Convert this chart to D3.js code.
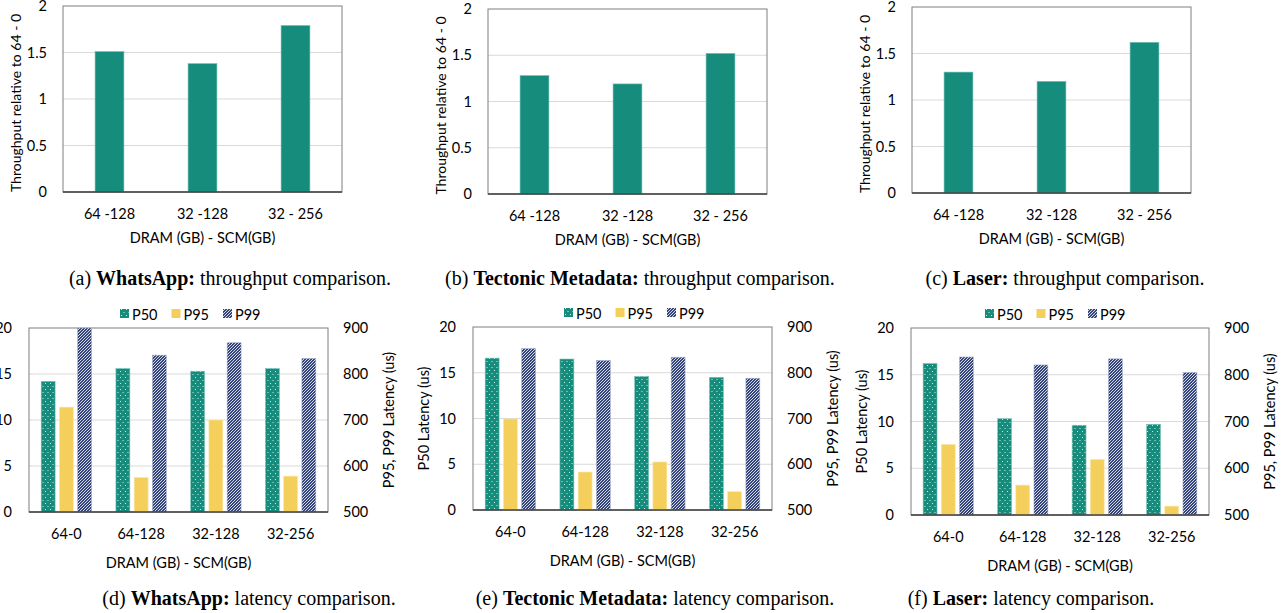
<!DOCTYPE html>
<html>
<head>
<meta charset="utf-8">
<script src="https://cdn.jsdelivr.net/npm/d3@7"></script>
<style>
  body { margin: 0; background: #fff; }
  text { font-family: Lato, "Open Sans", sans-serif; fill: #000; }
</style>
</head>
<body>
<div id="chart"></div>
<script>
const WIDTH = 1281, HEIGHT = 613;

// Throughput charts (top row)
const throughputCats = ["64 -128", "32 -128", "32 - 256"];
const throughputTicks = [0, 0.5, 1, 1.5, 2];
const whatsappThroughput = [1.51, 1.38, 1.79];
const tectonicThroughput = [1.28, 1.19, 1.52];
const laserThroughput = [1.30, 1.20, 1.62];

// Latency charts (bottom row), P50 on left axis, P95/P99 on right axis
const latencyCats = ["64-0", "64-128", "32-128", "32-256"];
const latencySeries = ["P50", "P95", "P99"];
const leftTicks = [0, 5, 10, 15, 20];
const rightTicks = [500, 600, 700, 800, 900];
const whatsappP50 = [14.2, 15.6, 15.3, 15.6];
const whatsappP95 = [728, 575, 700, 578];
const whatsappP99 = [900, 841, 868, 834];
const tectonicP50 = [16.6, 16.5, 14.6, 14.5];
const tectonicP95 = [699, 583, 605, 540];
const tectonicP99 = [853, 827, 834, 788];
const laserP50 = [16.2, 10.3, 9.6, 9.7];
const laserP95 = [651, 564, 619, 519];
const laserP99 = [838, 821, 834, 805];

const TEAL = "#168c7d", YELLOW = "#f5cf5c", NAVY = "#34457a";
const GRID = "#d9d9d9", FRAME = "#7f7f7f", AXIS = "#404040";
const FONT = "14.5px";

const svg = d3.select("#chart").append("svg")
    .attr("width", WIDTH)
    .attr("height", HEIGHT);

const defs = svg.append("defs");
const dots = defs.append("pattern")
    .attr("id", "dots").attr("patternUnits", "userSpaceOnUse")
    .attr("width", 5).attr("height", 6);
dots.append("rect").attr("width", 5).attr("height", 6).attr("fill", TEAL);
dots.append("rect").attr("x", 1).attr("y", 1).attr("width", 1).attr("height", 1).attr("fill", "#cfe9e4");
dots.append("rect").attr("x", 3.5).attr("y", 4).attr("width", 1).attr("height", 1).attr("fill", "#cfe9e4");

const hatch = defs.append("pattern")
    .attr("id", "hatch").attr("patternUnits", "userSpaceOnUse")
    .attr("width", 3).attr("height", 3);
hatch.append("rect").attr("width", 3).attr("height", 3).attr("fill", NAVY);
hatch.append("path")
    .attr("d", "M0,3 L3,0 M-1,1 L1,-1 M2,4 L4,2")
    .attr("stroke", "#e6e9f2").attr("stroke-width", 0.9);

const seriesFill = { P50: "url(#dots)", P95: YELLOW, P99: "url(#hatch)" };

function frame(g, w, h) {
    g.append("rect")
        .attr("width", w).attr("height", h)
        .attr("fill", "none").attr("stroke", FRAME).attr("stroke-width", 1);
}

function grid(g, scale, ticks, w) {
    g.selectAll(".grid")
        .data(ticks.slice(1, -1))
        .join("line")
        .attr("x1", 0).attr("x2", w)
        .attr("y1", d => scale(d)).attr("y2", d => scale(d))
        .attr("stroke", GRID).attr("stroke-width", 1);
}

function styleTicks(sel) {
    sel.select(".domain").remove();
    sel.selectAll("text").style("font-size", FONT).style("font-family", "Lato, sans-serif").attr("fill", "#000");
}

function drawThroughput(box, values, caption, captionX) {
    const w = box.right - box.left, h = box.bottom - box.top;
    const g = svg.append("g").attr("transform", `translate(${box.left}, ${box.top})`);

    const x = d3.scaleBand().domain(throughputCats).range([0, w])
        .paddingInner(0.69).paddingOuter(0.345);
    const y = d3.scaleLinear().domain([0, 2]).range([h, 0]);

    grid(g, y, throughputTicks, w);
    frame(g, w, h);

    g.selectAll(".bar")
        .data(values)
        .join("rect")
        .attr("x", (d, i) => x(throughputCats[i]))
        .attr("y", d => y(d))
        .attr("width", x.bandwidth())
        .attr("height", d => h - y(d))
        .attr("fill", TEAL)
        .attr("stroke", "#6fbcb0").attr("stroke-width", 0.6);

    g.append("line").attr("x1", 0).attr("x2", w).attr("y1", h).attr("y2", h)
        .attr("stroke", AXIS).attr("stroke-width", 1.5);

    g.append("g").call(d3.axisLeft(y).tickValues(throughputTicks).tickSize(0).tickPadding(16).tickFormat(d3.format("")))
        .call(styleTicks);
    g.append("g").attr("transform", `translate(0, ${h})`)
        .call(d3.axisBottom(x).tickSize(0).tickPadding(17))
        .call(styleTicks);

    g.append("text")
        .attr("transform", "rotate(-90)")
        .attr("x", -h / 2 - 4).attr("y", -42)
        .attr("text-anchor", "middle")
        .style("font-size", "14px")
        .text("Throughput relative to 64 - 0");

    g.append("text")
        .attr("x", w / 2).attr("y", h + 51)
        .attr("text-anchor", "middle")
        .style("font-size", FONT)
        .text("DRAM (GB) - SCM(GB)");

    drawCaption(caption, captionX, 285);
}

function drawLatency(box, p50, p95, p99, legendX, caption, captionX) {
    const w = box.right - box.left, h = box.bottom - box.top;
    const g = svg.append("g").attr("transform", `translate(${box.left}, ${box.top})`);

    const x0 = d3.scaleBand().domain(latencyCats).range([0, w]);
    const x1 = d3.scaleBand().domain(latencySeries).range([0, x0.bandwidth()])
        .paddingInner(0.235).paddingOuter(0.667);
    const yL = d3.scaleLinear().domain([0, 20]).range([h, 0]);
    const yR = d3.scaleLinear().domain([500, 900]).range([h, 0]);

    grid(g, yL, leftTicks, w);
    frame(g, w, h);

    const rows = latencyCats.map((c, i) => [
        { cat: c, s: "P50", v: p50[i], y: yL(p50[i]) },
        { cat: c, s: "P95", v: p95[i], y: yR(p95[i]) },
        { cat: c, s: "P99", v: p99[i], y: yR(p99[i]) }
    ]).flat();

    g.selectAll(".bar")
        .data(rows)
        .join("rect")
        .attr("x", d => x0(d.cat) + x1(d.s))
        .attr("y", d => d.y)
        .attr("width", x1.bandwidth())
        .attr("height", d => h - d.y)
        .attr("fill", d => seriesFill[d.s])
        .attr("stroke", d => d.s === "P95" ? "#fbe7ad" : (d.s === "P50" ? "#7cc2b7" : "#aab3cf"))
        .attr("stroke-width", 0.6);

    g.append("line").attr("x1", 0).attr("x2", w).attr("y1", h).attr("y2", h)
        .attr("stroke", AXIS).attr("stroke-width", 1.5);

    g.append("g").call(d3.axisLeft(yL).tickValues(leftTicks).tickSize(0).tickPadding(17))
        .call(styleTicks);
    g.append("g").attr("transform", `translate(${w}, 0)`)
        .call(d3.axisRight(yR).tickValues(rightTicks).tickSize(0).tickPadding(15))
        .call(styleTicks);
    g.append("g").attr("transform", `translate(0, ${h})`)
        .call(d3.axisBottom(x0).tickSize(0).tickPadding(17))
        .call(styleTicks);

    g.append("text")
        .attr("transform", "rotate(-90)")
        .attr("x", -h / 2).attr("y", -44)
        .attr("text-anchor", "middle")
        .style("font-size", FONT)
        .text("P50 Latency (us)");

    g.append("text")
        .attr("transform", "rotate(-90)")
        .attr("x", -h / 2).attr("y", w + 66)
        .attr("text-anchor", "middle")
        .style("font-size", FONT)
        .text("P95, P99 Latency (us)");

    g.append("text")
        .attr("x", w / 2).attr("y", h + 56)
        .attr("text-anchor", "middle")
        .style("font-size", FONT)
        .text("DRAM (GB) - SCM(GB)");

    // Legend
    const lg = svg.append("g").attr("transform", `translate(${legendX}, ${box.top - 14})`);
    const items = lg.selectAll(".item")
        .data(latencySeries)
        .join("g")
        .attr("transform", (d, i) => `translate(${i * 51.5}, 0)`);
    items.append("rect")
        .attr("x", 0).attr("y", -5).attr("width", 9).attr("height", 9)
        .attr("fill", d => seriesFill[d]);
    items.append("text")
        .attr("x", 12).attr("y", 0)
        .attr("dominant-baseline", "central")
        .style("font-size", FONT)
        .text(d => d);

    drawCaption(caption, captionX, 605);
}

function drawCaption(parts, cx, y) {
    const t = svg.append("text")
        .attr("x", cx).attr("y", y)
        .attr("text-anchor", "middle")
        .style("font-family", "'Liberation Serif', 'Times New Roman', serif")
        .style("font-size", "20px");
    t.append("tspan").text(parts[0]);
    t.append("tspan").style("font-weight", "bold").text(parts[1]);
    t.append("tspan").text(parts[2]);
}

drawThroughput({ left: 63, right: 342, top: 6, bottom: 192 }, whatsappThroughput,
    ["(a) ", "WhatsApp:", " throughput comparison."], 230);
drawThroughput({ left: 488, right: 767, top: 9, bottom: 194 }, tectonicThroughput,
    ["(b) ", "Tectonic Metadata:", " throughput comparison."], 640);
drawThroughput({ left: 912, right: 1191, top: 7, bottom: 193 }, laserThroughput,
    ["(c) ", "Laser:", " throughput comparison."], 1065);

drawLatency({ left: 29, right: 328, top: 328, bottom: 512 }, whatsappP50, whatsappP95, whatsappP99, 120,
    ["(d) ", "WhatsApp:", " latency comparison."], 249);
drawLatency({ left: 473, right: 772, top: 327, bottom: 510 }, tectonicP50, tectonicP95, tectonicP99, 564,
    ["(e) ", "Tectonic Metadata:", " latency comparison."], 655);
drawLatency({ left: 911, right: 1209, top: 328, bottom: 515 }, laserP50, laserP95, laserP99, 985,
    ["(f) ", "Laser:", " latency comparison."], 1031);
</script>
</body>
</html>
